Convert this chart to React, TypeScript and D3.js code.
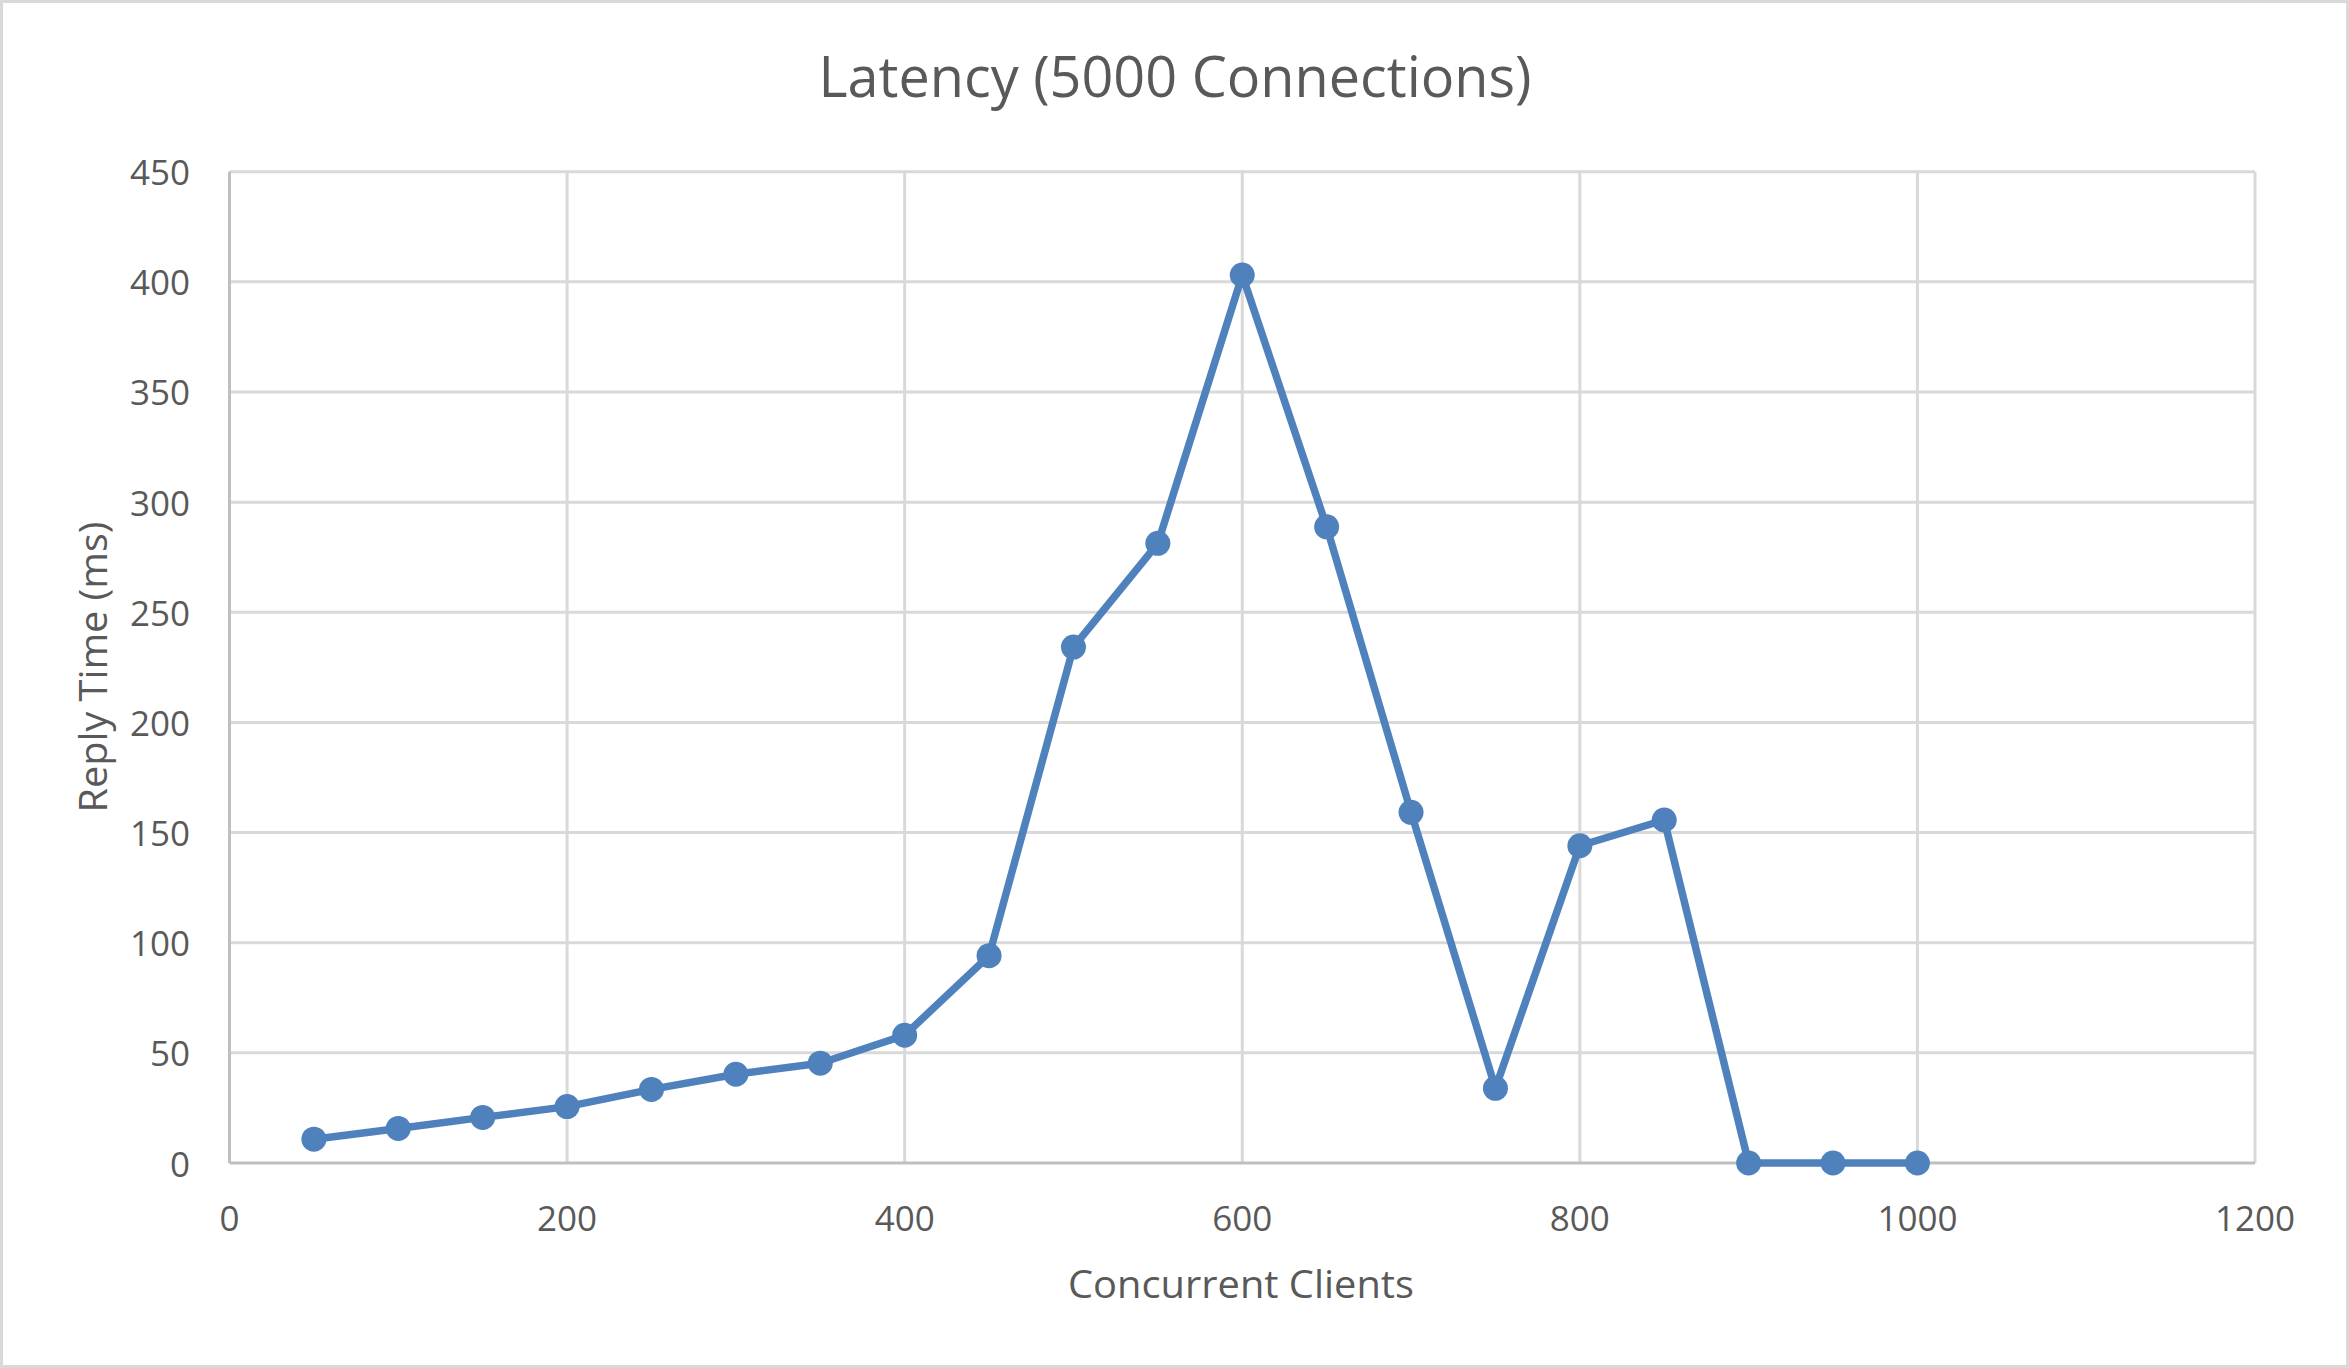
import React from 'react';
import * as d3 from 'd3';

const clients = [50, 100, 150, 200, 250, 300, 350, 400, 450, 500, 550, 600, 650, 700, 750, 800, 850, 900, 950, 1000];
const replyMs = [10.8, 15.7, 20.7, 25.6, 33.4, 40.3, 45.3, 58, 94.1, 234.2, 281.3, 403.1, 288.8, 159.2, 33.9, 144, 155.7, 0, 0, 0];
const xTicks = [0, 200, 400, 600, 800, 1000, 1200];
const yTicks = [0, 50, 100, 150, 200, 250, 300, 350, 400, 450];

const W = 2349;
const H = 1368;
const margin = { top: 171.7, right: 94, bottom: 205, left: 229.5 };
const font = "'Open Sans', 'Noto Sans', sans-serif";
const textColor = '#595959';
const blue = '#4F81BD';

const App = () => {
  const x = d3.scaleLinear().domain([0, 1200]).range([margin.left, W - margin.right]);
  const y = d3.scaleLinear().domain([0, 450]).range([H - margin.bottom, margin.top]);

  const points = clients.map((c, i) => ({ c, v: replyMs[i] }));
  const line = d3.line<{ c: number; v: number }>()
    .x(d => x(d.c))
    .y(d => y(d.v));

  return (
    <div style={{ position: 'absolute', left: 0, top: 0 }}>
      <svg width={W} height={H} style={{ display: 'block' }}>
        <rect x={1.5} y={1.5} width={W - 3} height={H - 3} fill="#fff" stroke="#D9D9D9" strokeWidth={3} />

        {/* gridlines */}
        {yTicks.filter(t => t > 0).map(t => (
          <line key={'gy' + t} x1={x(0)} x2={x(1200)} y1={y(t)} y2={y(t)} stroke="#D9D9D9" strokeWidth={3} />
        ))}
        {xTicks.filter(t => t > 0).map(t => (
          <line key={'gx' + t} x1={x(t)} x2={x(t)} y1={y(0)} y2={y(450)} stroke="#D9D9D9" strokeWidth={3} />
        ))}

        {/* axes */}
        <line x1={x(0)} x2={x(0)} y1={y(0)} y2={y(450)} stroke="#BFBFBF" strokeWidth={3} />
        <line x1={x(0)} x2={x(1200)} y1={y(0)} y2={y(0)} stroke="#BFBFBF" strokeWidth={3} />

        {/* tick labels */}
        {yTicks.map(t => (
          <text key={'ty' + t} x={190} y={y(t)} textAnchor="end" dominantBaseline="central"
            fontFamily={font} fontSize={35} fill={textColor}>{t}</text>
        ))}
        {xTicks.map(t => (
          <text key={'tx' + t} x={x(t)} y={1217} textAnchor="middle" dominantBaseline="central"
            fontFamily={font} fontSize={35} fill={textColor}>{t}</text>
        ))}

        {/* series */}
        <path d={line(points) || ''} fill="none" stroke={blue} strokeWidth={7.5} strokeLinejoin="round" />
        {points.map(p => (
          <circle key={p.c} cx={x(p.c)} cy={y(p.v)} r={12.5} fill={blue} />
        ))}

        {/* titles */}
        <text x={1175} y={97} textAnchor="middle" fontFamily={font} fontSize={56} fill={textColor}
          textLength={713} lengthAdjust="spacingAndGlyphs">Latency (5000 Connections)</text>
        <text x={1241} y={1283} textAnchor="middle" dominantBaseline="central" fontFamily={font} fontSize={38}
          fill={textColor} textLength={346} lengthAdjust="spacingAndGlyphs">Concurrent Clients</text>
        <text transform="translate(92,667) rotate(-90)" textAnchor="middle" dominantBaseline="central"
          fontFamily={font} fontSize={38} fill={textColor} textLength={291}
          lengthAdjust="spacingAndGlyphs">Reply Time (ms)</text>
      </svg>
    </div>
  );
};

export default App;
